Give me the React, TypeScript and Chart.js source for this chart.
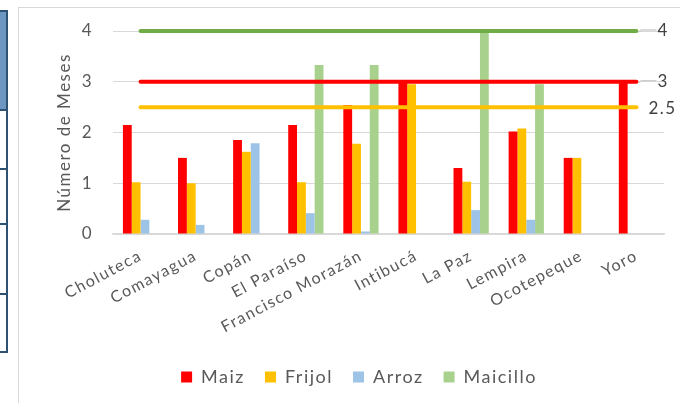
import React, { useEffect, useRef } from "react";
import { Chart, registerables } from "chart.js";

Chart.register(...registerables);

const categorias = [
  "Choluteca",
  "Comayagua",
  "Copán",
  "El Paraíso",
  "Francisco Morazán",
  "Intibucá",
  "La Paz",
  "Lempira",
  "Ocotepeque",
  "Yoro",
];
const maiz = [2.15, 1.5, 1.85, 2.15, 2.54, 3, 1.3, 2.02, 1.5, 3];
const frijol = [1.02, 1.0, 1.62, 1.02, 1.78, 2.95, 1.03, 2.08, 1.5, 0];
const arroz = [0.28, 0.18, 1.79, 0.41, 0.05, 0, 0.47, 0.28, 0, 0];
const maicillo = [0, 0, 0, 3.33, 3.33, 0, 4, 2.95, 0, 0];
const limiteMaicillo = [4, 4, 4, 4, 4, 4, 4, 4, 4, 4];
const limiteMaiz = [3, 3, 3, 3, 3, 3, 3, 3, 3, 3];
const limiteFrijol = [2.5, 2.5, 2.5, 2.5, 2.5, 2.5, 2.5, 2.5, 2.5, 2.5];
const etiquetasLimite = ["4", "3", "2.5"];
const yMin = 0;
const yMax = 4;
const yPaso = 1;

const FONT = "Lato, 'Open Sans', sans-serif";
const SPACING = "1.5px";
const LEGEND_SHIFT = 17;

const spacingPlugin = {
  id: "letterSpacing",
  beforeUpdate(chart: any) {
    chart.ctx.letterSpacing = SPACING;
  },
  beforeLayout(chart: any) {
    chart.ctx.letterSpacing = SPACING;
  },
  afterLayout(chart: any) {
    if (chart.legend) {
      chart.legend.left += LEGEND_SHIFT;
      chart.legend.right += LEGEND_SHIFT;
    }
  },
  beforeDraw(chart: any) {
    chart.ctx.letterSpacing = SPACING;
  },
};

const lineLabelPlugin = {
  id: "lineLabels",
  afterDatasetsDraw(chart: any) {
    const ctx = chart.ctx;
    ctx.save();
    chart.data.datasets.forEach((ds: any, i: number) => {
      if (ds.type !== "line") return;
      const meta = chart.getDatasetMeta(i);
      const pt = meta.data[meta.data.length - 1];
      if (!pt) return;
      const label = ds.endLabel as string;
      if (ds.leader) {
        ctx.strokeStyle = "#cfcfcf";
        ctx.lineWidth = 1.5;
        ctx.beginPath();
        ctx.moveTo(pt.x + 2, pt.y + 1);
        ctx.lineTo(pt.x + 5, pt.y - 1);
        ctx.lineTo(pt.x + 20, pt.y - 1);
        ctx.stroke();
      }
      ctx.fillStyle = "#404040";
      ctx.font = `17px ${FONT}`;
      ctx.textAlign = "left";
      ctx.textBaseline = "middle";
      ctx.fillText(label, pt.x + (ds.leader ? 21 : 12), pt.y + (ds.leader ? 0 : 1));
    });
    ctx.restore();
  },
};

export default function App() {
  const ref = useRef<HTMLCanvasElement | null>(null);

  useEffect(() => {
    if (!ref.current) return;
    const lineDs = (data: number[], color: string, label: string, endLabel: string, leader: boolean) => ({
      type: "line" as const,
      label,
      data,
      borderColor: color,
      backgroundColor: color,
      borderWidth: 4,
      borderCapStyle: "round",
      pointRadius: 0,
      order: 0,
      clip: false,
      endLabel,
      leader,
    });
    const barDs = (data: number[], color: string, label: string) => ({
      type: "bar" as const,
      label,
      data,
      backgroundColor: color,
      borderWidth: 0,
      order: 1,
      categoryPercentage: 0.64,
      barPercentage: 1,
    });
    const chart = new Chart(ref.current, {
      type: "bar",
      data: {
        labels: categorias,
        datasets: [
          lineDs(limiteMaicillo, "#70ad47", "lim-maicillo", etiquetasLimite[0], true),
          lineDs(limiteMaiz, "#ff0000", "lim-maiz", etiquetasLimite[1], true),
          lineDs(limiteFrijol, "#ffc000", "lim-frijol", etiquetasLimite[2], false),
          barDs(maiz, "#ff0000", "Maiz"),
          barDs(frijol, "#ffc000", "Frijol"),
          barDs(arroz, "#9dc3e6", "Arroz"),
          barDs(maicillo, "#a9d18e", "Maicillo"),
        ] as any,
      },
      options: {
        animation: false,
        responsive: false,
        maintainAspectRatio: false,
        layout: { padding: { left: 20, right: 16, top: 31, bottom: 7 } },
        plugins: {
          tooltip: { enabled: false },
          legend: {
            position: "bottom",
            labels: {
              filter: (item: any) => !String(item.text).startsWith("lim-"),
              boxWidth: 11,
              boxHeight: 11,
              padding: 20,
              color: "#595959",
              font: { family: FONT, size: 18 },
            },
          },
        },
        scales: {
          x: {
            grid: { display: false },
            border: { display: true, color: "#d9d9d9", width: 1.5 },
            ticks: {
              color: "#595959",
              font: { family: FONT, size: 16 },
              minRotation: 28,
              maxRotation: 28,
              autoSkip: false,
              padding: 4,
            },
            afterFit: (scale: any) => {
              scale.height = 114;
            },
          },
          y: {
            min: yMin,
            max: yMax,
            ticks: {
              stepSize: yPaso,
              color: "#595959",
              font: { family: FONT, size: 17 },
              padding: 20,
            },
            grid: { color: "#d9d9d9", lineWidth: 1, drawTicks: false },
            border: { display: false },
            title: {
              display: true,
              text: "Número de Meses",
              color: "#595959",
              font: { family: FONT, size: 17 },
              padding: { top: 34, bottom: 0 },
            },
            afterFit: (scale: any) => {
              scale.width = 93;
            },
          },
        },
      },
      plugins: [spacingPlugin, lineLabelPlugin],
    });
    return () => chart.destroy();
  }, []);

  const cell = (top: number, height: number, bg: string) => (
    <div
      key={top}
      style={{
        position: "absolute",
        left: -4,
        top,
        width: 12,
        height,
        background: bg,
        border: "2px solid #2f5272",
        boxSizing: "border-box",
      }}
    />
  );

  return (
    <div style={{ position: "fixed", left: 0, top: 0, width: 680, height: 403, background: "#fff", overflow: "hidden" }}>
      {cell(10, 101, "#6d96c2")}
      {cell(109, 61, "#ffffff")}
      {cell(168, 57, "#ffffff")}
      {cell(223, 72, "#ffffff")}
      {cell(293, 60, "#ffffff")}
      <div
        style={{
          position: "absolute",
          left: 18,
          top: 7,
          width: 700,
          height: 420,
          border: "1.5px solid #d9d9d9",
          boxSizing: "border-box",
        }}
      />
      <canvas ref={ref} width={680} height={403} style={{ position: "absolute", left: 0, top: 0 }} />
    </div>
  );
}
